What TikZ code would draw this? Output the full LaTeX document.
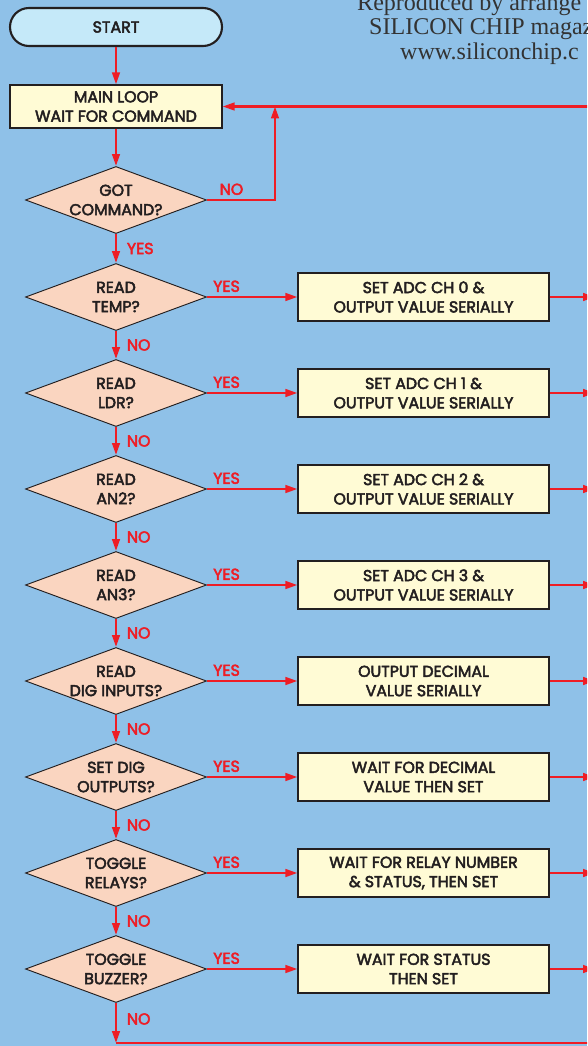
\documentclass[tikz,border=0pt]{standalone}
\usepackage{fontspec}
\setmainfont{Poppins}[FakeBold=3]
\newfontfamily\credfont{Liberation Serif}
\usetikzlibrary{arrows.meta,positioning,shapes.geometric}
\definecolor{SkyBg}{HTML}{8FC1E8}
\definecolor{PeachFill}{HTML}{FAD5C0}
\definecolor{CreamFill}{HTML}{FFFBD5}
\definecolor{StartFill}{HTML}{C5E9F9}
\definecolor{FlowRed}{HTML}{EE1D25}
\definecolor{InkDark}{HTML}{231F20}

\begin{document}
\begin{tikzpicture}[x=0.03cm,y=-0.03cm,
  every node/.style={font=\fontsize{13.5}{16.5}\selectfont,text=InkDark,align=center},
  term/.style={draw=InkDark,line width=1.8pt,fill=StartFill,rounded corners=0.57cm,
    minimum width=6.36cm,minimum height=1.14cm},
  proc/.style={draw=InkDark,line width=1pt,fill=CreamFill,minimum width=6.36cm,
    minimum height=1.29cm,inner sep=0pt},
  act/.style={proc,minimum width=7.53cm,minimum height=1.44cm},
  ask/.style={diamond,draw=InkDark,line width=.8pt,fill=PeachFill,aspect=2.7,
    minimum width=5.43cm,minimum height=2.01cm,inner xsep=-6pt,inner ysep=0pt},
  wire/.style={line width=2pt,color=FlowRed},
  flow/.style={wire,-{Triangle[length=3.6mm,width=2.3mm]}},
  ans/.style={text=FlowRed}]
\clip (0,0) rectangle (587,1046);
\fill[SkyBg] (0,0) rectangle (587,1046);
\begin{scope}[every node/.style={anchor=base west,text=black!80,inner xsep=0pt,
    font=\credfont\fontsize{20.5}{22}\selectfont}]
  \node (cr1) at (357,11) {Reproduced by arrange};
  \node (cr2) at (369,35) {SILICON CHIP magaz};
  \node (cr3) at (400,60) {www.siliconchip.c};
\end{scope}
\node[term] (start) at (116,27) {START};
\node[proc] (main) at (116,106.5) {MAIN LOOP\\WAIT FOR COMMAND};
\node[ask] (q0) at (116,200) {GOT\\COMMAND?};
\coordinate (ret) at (595,106.5);
\coordinate (junc) at (275,106.5);
\draw[flow] (start) -- (main);
\draw[flow] (main) -- (q0);
\draw[flow] (ret) -- (main);
\draw[flow] (q0.east) -| node[ans,anchor=south,pos=.18]{NO} (junc);
\foreach \n/\y/\g/\q/\a in {
  1/297/YES/{READ\\TEMP?}/{SET ADC CH 0 \&\\OUTPUT VALUE SERIALLY},
  2/393/NO/{READ\\LDR?}/{SET ADC CH 1 \&\\OUTPUT VALUE SERIALLY},
  3/489/NO/{READ\\AN2?}/{SET ADC CH 2 \&\\OUTPUT VALUE SERIALLY},
  4/585/NO/{READ\\AN3?}/{SET ADC CH 3 \&\\OUTPUT VALUE SERIALLY},
  5/681/NO/{READ\\DIG INPUTS?}/{OUTPUT DECIMAL\\VALUE SERIALLY},
  6/777/NO/{SET DIG\\OUTPUTS?}/{WAIT FOR DECIMAL\\VALUE THEN SET},
  7/873/NO/{TOGGLE\\RELAYS?}/{WAIT FOR RELAY NUMBER\\\& STATUS, THEN SET},
  8/969/NO/{TOGGLE\\BUZZER?}/{WAIT FOR STATUS\\THEN SET}}{
  \pgfmathtruncatemacro\p{\n-1}
  \node[ask] (q\n) at (116,\y) {\q};
  \node[act] (a\n) at (423.5,\y) {\a};
  \coordinate (o\n) at (595,\y);
  \draw[flow] (q\p) -- node[ans,right=5pt]{\g} (q\n);
  \draw[flow] (q\n) -- node[ans,anchor=south west,pos=0,xshift=1pt]{YES} (a\n);
  \draw[flow] (a\n) -- (o\n);
}
\coordinate (bot) at (116,1043);
\coordinate (botr) at (595,1043);
\draw[flow] (q8) -- node[ans,right=5pt,pos=.4]{NO} (bot);
\draw[wire] (bot) -- (botr);
\end{tikzpicture}
\end{document}
